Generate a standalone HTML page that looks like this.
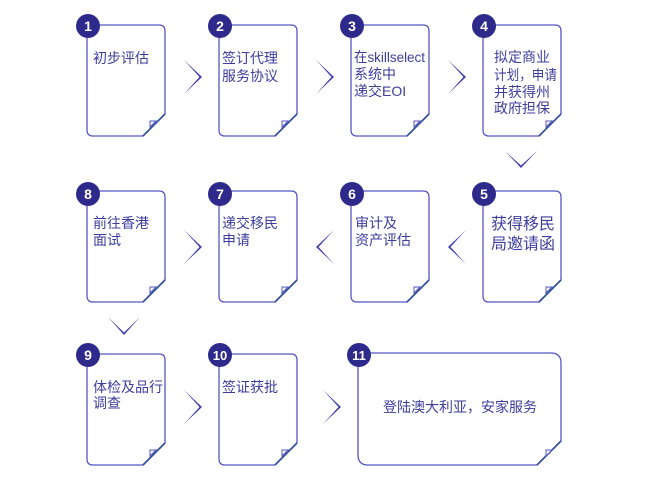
<!DOCTYPE html>
<html><head><meta charset="utf-8"><style>
html,body{margin:0;padding:0;background:#fff;}
svg{display:block;}
.t{font-family:"Liberation Sans","Noto Sans CJK SC",sans-serif;font-size:14px;fill:#3d3d9e;}
.n{font-family:"Liberation Sans",sans-serif;font-size:14px;font-weight:bold;fill:#fff;text-anchor:middle;}
.card{fill:#fff;stroke:#5656c2;stroke-width:1.3;}
.fold{fill:#fff;stroke:#5656c2;stroke-width:1;}
.cut{stroke:#2f4f9a;stroke-width:1.6;}
.ch{fill:#3c3cb0;}
.c{fill:#2e2a8c;}
</style></head><body>
<svg width="651" height="484" viewBox="0 0 651 484" xmlns="http://www.w3.org/2000/svg">
<defs>
<g id="cd">
<path class="card" d="M0,0 H72 Q78,0 78,6 V89 L56,111 H6 Q0,111 0,105 Z"/>
<line class="cut" x1="78" y1="89" x2="56" y2="111"/>
<path class="fold" d="M63,96 H69 L63,102 Z"/>
</g>
</defs>

<!-- Row 1 cards -->
<use href="#cd" x="87" y="25"/>
<use href="#cd" x="219" y="25"/>
<use href="#cd" x="351" y="25"/>
<use href="#cd" x="483" y="25"/>
<!-- Row 2 -->
<use href="#cd" x="87" y="191"/>
<use href="#cd" x="219" y="191"/>
<use href="#cd" x="351" y="191"/>
<use href="#cd" x="483" y="191"/>
<!-- Row 3 -->
<use href="#cd" x="87" y="354"/>
<use href="#cd" x="219" y="354"/>
<path class="card" d="M358,353 H551 Q561,353 561,363 V441 L537,465 H368 Q358,465 358,455 Z"/>
<line class="cut" x1="561" y1="441" x2="537" y2="465"/>
<path class="fold" d="M546,450 H552 L546,456 Z"/>

<!-- circles -->
<circle class="c" cx="88" cy="26" r="12"/><text class="n" x="88" y="31">1</text>
<circle class="c" cx="220" cy="26" r="12"/><text class="n" x="220" y="31">2</text>
<circle class="c" cx="352" cy="26" r="12"/><text class="n" x="352" y="31">3</text>
<circle class="c" cx="484" cy="26" r="12"/><text class="n" x="484" y="31">4</text>
<circle class="c" cx="88" cy="194" r="12"/><text class="n" x="88" y="199">8</text>
<circle class="c" cx="220" cy="194" r="12"/><text class="n" x="220" y="199">7</text>
<circle class="c" cx="352" cy="194" r="12"/><text class="n" x="352" y="199">6</text>
<circle class="c" cx="484" cy="194" r="12"/><text class="n" x="484" y="199">5</text>
<circle class="c" cx="88" cy="355" r="12"/><text class="n" x="88" y="360">9</text>
<circle class="c" cx="220" cy="355" r="12"/><text class="n" x="220" y="360" style="font-size:13px">10</text>
<circle class="c" cx="359" cy="355" r="12"/><text class="n" x="359" y="360" style="font-size:13px">11</text>

<!-- chevrons row 1 (right) -->
<polygon class="ch" points="184,60 202,77 184,94 199.5,77"/>
<polygon class="ch" points="316,60 334,77 316,94 331.5,77"/>
<polygon class="ch" points="448,60 466,77 448,94 463.5,77"/>
<!-- down chevron after 4 -->
<polygon class="ch" points="505,151 521,168 537,151 521,165.5"/>
<!-- row 2 -->
<polygon class="ch" points="466,230 448,247 466,264 450.5,247"/>
<polygon class="ch" points="334,230 316,247 334,264 318.5,247"/>
<polygon class="ch" points="184,230 202,247 184,264 199.5,247"/>
<!-- down chevron after 8 -->
<polygon class="ch" points="108,317 124,335 140,317 124,332.5"/>
<!-- row 3 -->
<polygon class="ch" points="184,390 202,407 184,424 199.5,407"/>
<polygon class="ch" points="323,390 341,407 323,424 338.5,407"/>

<!-- texts -->
<text class="t" x="93" y="63">初步评估</text>
<text class="t" x="222" y="63">签订代理</text>
<text class="t" x="222" y="81">服务协议</text>
<text class="t" x="354" y="62" textLength="71" lengthAdjust="spacingAndGlyphs">在skillselect</text>
<text class="t" x="354" y="79">系统中</text>
<text class="t" x="354" y="96">递交EOI</text>
<text class="t" x="494" y="62">拟定商业</text>
<text class="t" x="494" y="80" textLength="63" lengthAdjust="spacingAndGlyphs">计划，申请</text>
<text class="t" x="494" y="97">并获得州</text>
<text class="t" x="494" y="113">政府担保</text>

<text class="t" x="491" y="229" style="font-size:16px">获得移民</text>
<text class="t" x="491" y="249" style="font-size:16px">局邀请函</text>
<text class="t" x="355" y="228">审计及</text>
<text class="t" x="355" y="245">资产评估</text>
<text class="t" x="222" y="228">递交移民</text>
<text class="t" x="222" y="245">申请</text>
<text class="t" x="93" y="228">前往香港</text>
<text class="t" x="93" y="245">面试</text>

<text class="t" x="93" y="392">体检及品行</text>
<text class="t" x="93" y="408">调查</text>
<text class="t" x="222" y="392">签证获批</text>
<text class="t" x="460" y="412" text-anchor="middle">登陆澳大利亚，安家服务</text>
</svg>
</body></html>
